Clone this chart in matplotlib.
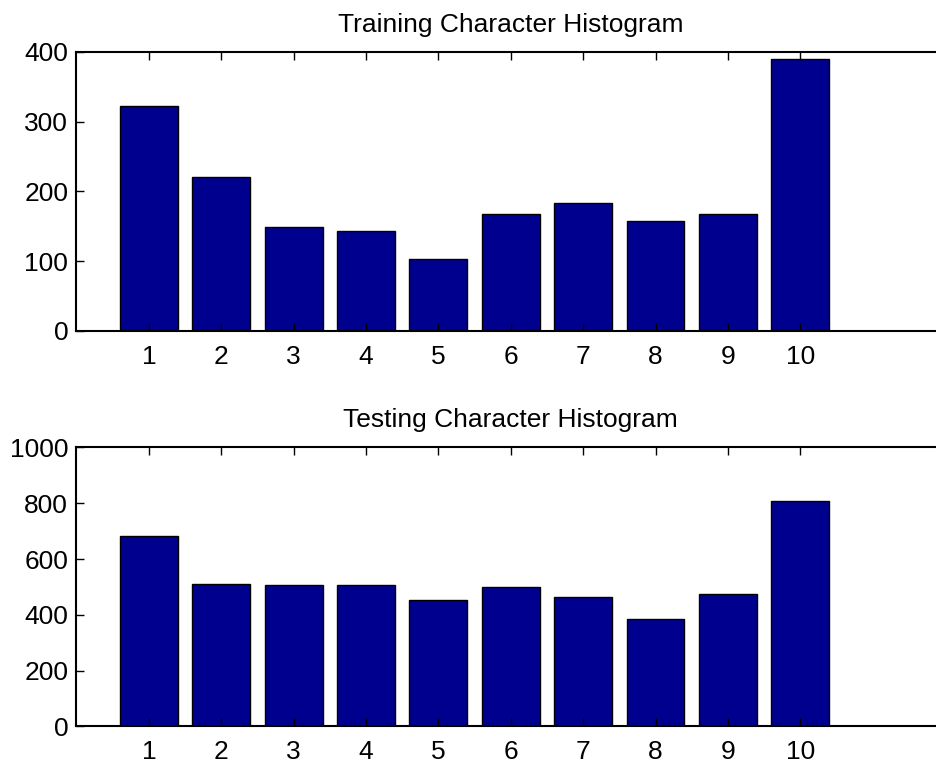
import numpy as np
import matplotlib.pyplot as plt

plt.rcParams['font.family'] = ['Liberation Sans', 'DejaVu Sans']

bins = np.arange(1, 11)
train_counts = [323, 220, 149, 143, 103, 167, 183, 158, 168, 390]
test_counts = [682, 511, 508, 508, 454, 499, 463, 384, 476, 808]

bar_color = '#00008f'

fig = plt.figure(figsize=(9.37, 7.64), dpi=100)
ax1 = fig.add_axes([0.0816, 0.567, 0.927, 0.365])
ax2 = fig.add_axes([0.0816, 0.0493, 0.927, 0.365])


def hist_panel(ax, counts, title, ymax, ystep):
    ax.bar(bins, counts, width=0.8, color=bar_color, edgecolor='black', linewidth=1)
    ax.set_xlim(0, 12)
    ax.set_ylim(0, ymax)
    ax.set_xticks(bins)
    ax.set_yticks(np.arange(0, ymax + 1, ystep))
    ax.tick_params(direction='in', length=6, width=1, top=True, right=True,
                   labelsize=19)
    ax.tick_params(axis='y', pad=6)
    ax.tick_params(axis='x', pad=10)
    for s in ax.spines.values():
        s.set_linewidth(1.5)
    ax.set_title(title, fontsize=19, pad=14.5)


hist_panel(ax1, train_counts, 'Training Character Histogram', 400, 100)
hist_panel(ax2, test_counts, 'Testing Character Histogram', 1000, 200)

fig.savefig('out.png', dpi=100)
